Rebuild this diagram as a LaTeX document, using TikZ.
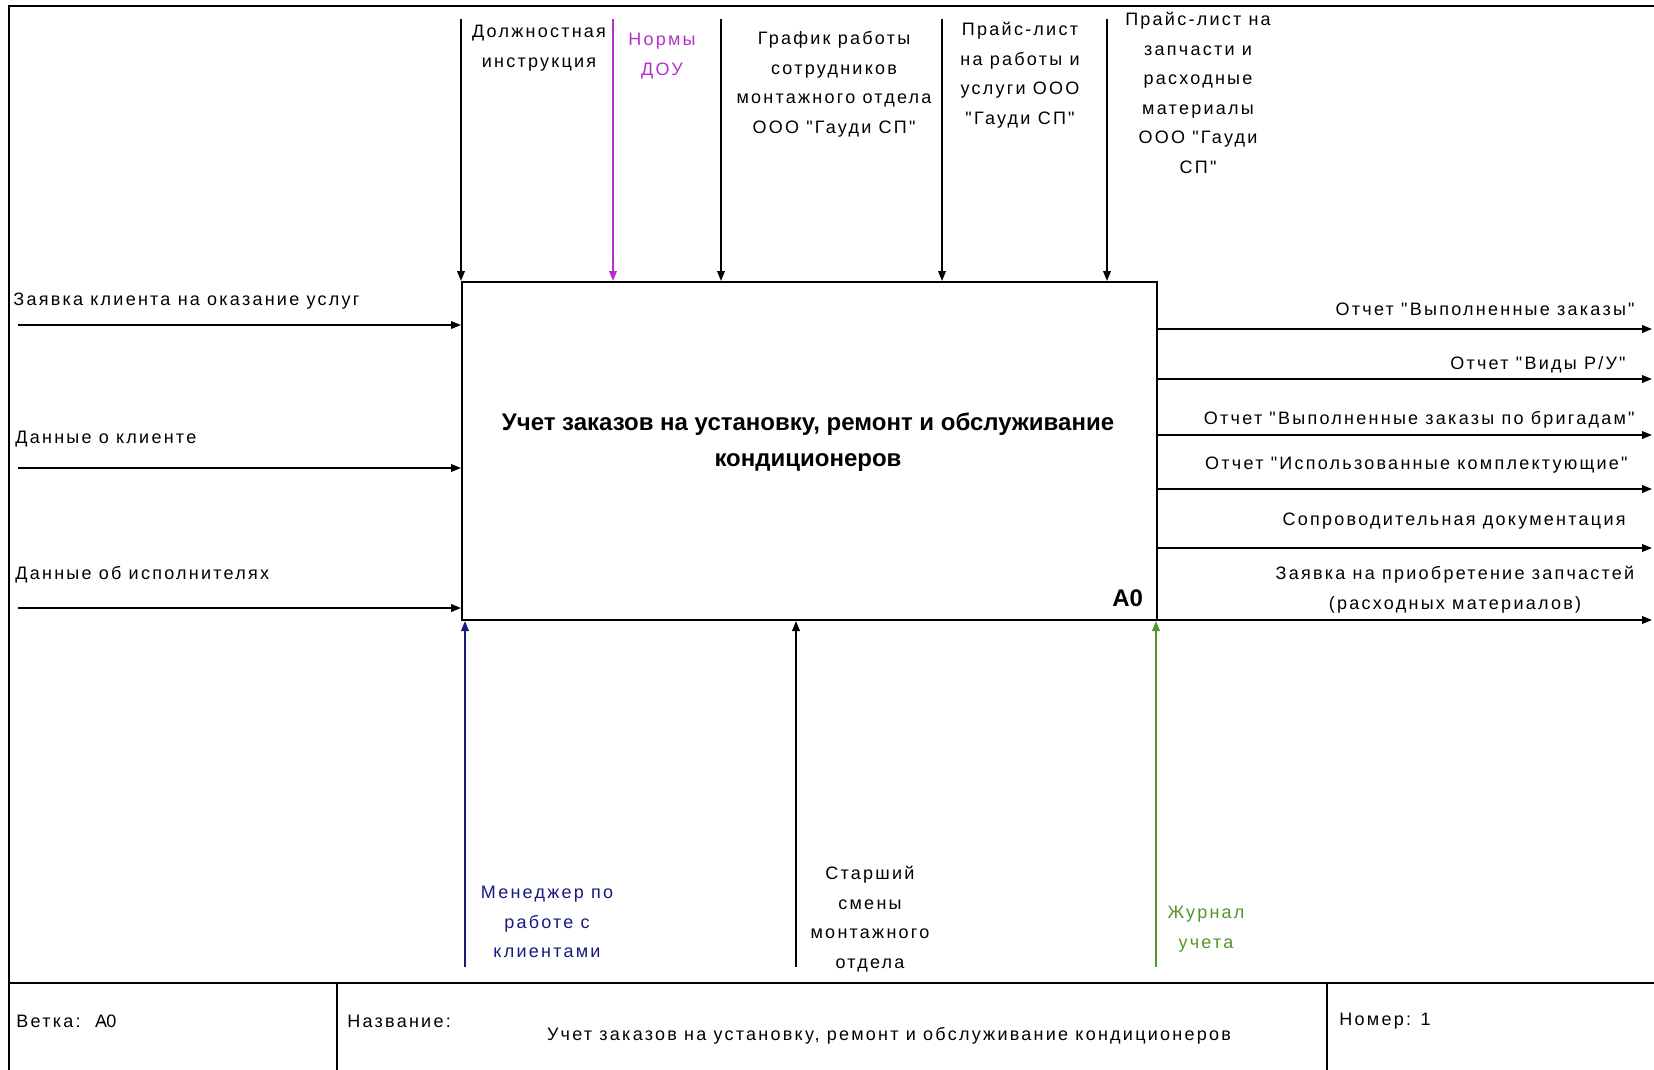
\documentclass[tikz,border=0pt]{standalone}
\usepackage{fontspec}
\setmainfont{Liberation Sans}[Ligatures=TeXOff]
\usetikzlibrary{positioning, arrows.meta}
\definecolor{ctrlpurple}{RGB}{178,50,200}
\definecolor{mechblue}{RGB}{24,24,130}
\definecolor{mechgreen}{RGB}{80,150,40}

\begin{document}
\begin{tikzpicture}[
  x = 0.5pt, y = -0.5pt,
  arr/.style = {-{Triangle[length=5pt, width=3.8pt]}, line width=0.9pt},
  lbl/.style = {align=center, inner sep=0pt,
                font=\fontsize{9}{14.75}\selectfont\addfontfeature{LetterSpace=12.5}},
  frame/.style = {line width=1.4pt}
]

\useasboundingbox (0,0) rectangle (1654,1070);

% function block
\node (A0) [draw, line width=1pt, anchor=north west, inner sep=0pt,
            minimum width=347.5pt, minimum height=169pt] at (461,281) {};
\node (ttl) [align=center, font=\bfseries\fontsize{12}{18}\selectfont] at (808,442)
  {Учет заказов на установку, ремонт и обслуживание\\кондиционеров};
\node (num) [font=\bfseries\fontsize{12}{14}\selectfont, anchor=south east] at (1150,614) {A0};

% controls
\coordinate (c1) at (461,19);
\coordinate (c2) at (613,19);
\coordinate (c3) at (721,19);
\coordinate (c4) at (942,19);
\coordinate (c5) at (1107,19);
\draw[arr] (c1) -- (c1 |- A0.north);
\draw[arr, ctrlpurple] (c2) -- (c2 |- A0.north);
\draw[arr] (c3) -- (c3 |- A0.north);
\draw[arr] (c4) -- (c4 |- A0.north);
\draw[arr] (c5) -- (c5 |- A0.north);
\node (lc1) [lbl, anchor=north] at (539,25) {Должностная\\инструкция};
\node (lc2) [lbl, anchor=north, ctrlpurple] at (662,33) {Нормы\\ДОУ};
\node (lc3) [lbl, anchor=north] at (834,31) {График работы\\сотрудников\\монтажного отдела\\ООО "Гауди СП"};
\node (lc4) [lbl, anchor=north] at (1020,22) {Прайс-лист\\на работы и\\услуги ООО\\"Гауди СП"};
\node (lc5) [lbl, anchor=north] at (1198,12) {Прайс-лист на\\запчасти и\\расходные\\материалы\\ООО "Гауди\\СП"};

% inputs
\coordinate (i1) at (18,325);
\coordinate (i2) at (18,468);
\coordinate (i3) at (18,608);
\draw[arr] (i1) -- (i1 -| A0.west);
\draw[arr] (i2) -- (i2 -| A0.west);
\draw[arr] (i3) -- (i3 -| A0.west);
\node (li1) [lbl, anchor=west] at (13,301) {Заявка клиента на оказание услуг};
\node (li2) [lbl, anchor=west] at (15,439) {Данные о клиенте};
\node (li3) [lbl, anchor=west] at (15,575) {Данные об исполнителях};

% outputs
\coordinate (o1) at (1652,329);
\coordinate (o2) at (1652,379);
\coordinate (o3) at (1652,435);
\coordinate (o4) at (1652,489);
\coordinate (o5) at (1652,548);
\coordinate (o6) at (1652,620);
\draw[arr] (o1 -| A0.east) -- (o1);
\draw[arr] (o2 -| A0.east) -- (o2);
\draw[arr] (o3 -| A0.east) -- (o3);
\draw[arr] (o4 -| A0.east) -- (o4);
\draw[arr] (o5 -| A0.east) -- (o5);
\draw[arr] (o6 -| A0.east) -- (o6);
\node (lo1) [lbl, anchor=east] at (1635,309) {Отчет "Выполненные заказы"};
\node (lo2) [lbl, anchor=east] at (1626,365) {Отчет "Виды Р/У"};
\node (lo3) [lbl, anchor=east] at (1635,420) {Отчет "Выполненные заказы по бригадам"};
\node (lo4) [lbl, anchor=east] at (1628,465) {Отчет "Использованные комплектующие"};
\node (lo5) [lbl, anchor=east] at (1626,521) {Сопроводительная документация};
\node (lo6) [lbl, anchor=north] at (1455,566) {Заявка на приобретение запчастей\\(расходных материалов)};

% mechanisms
\coordinate (m1) at (465,967);
\coordinate (m2) at (796,967);
\coordinate (m3) at (1156,967);
\draw[arr, mechblue] (m1) -- (m1 |- A0.south);
\draw[arr] (m2) -- (m2 |- A0.south);
\draw[arr, mechgreen] (m3) -- (m3 |- A0.south);
\node (lm1) [lbl, anchor=north, mechblue] at (547,886) {Менеджер по\\работе с\\клиентами};
\node (lm2) [lbl, anchor=north] at (870,866) {Старший\\смены\\монтажного\\отдела};
\node (lm3) [lbl, anchor=north, mechgreen] at (1206,906) {Журнал\\учета};

% frame and footer
\draw[frame] (9,1070) -- (9,6) -- (1654,6);
\draw[frame] (9,983) -- (1654,983);
\coordinate (f1) at (337,983);
\coordinate (f2) at (1327,983);
\draw[line width=0.8pt] (f1) -- (f1 |- 0,1070);
\draw[line width=0.8pt] (f2) -- (f2 |- 0,1070);
\node (fb) [lbl, anchor=west] at (16,1021) {Ветка:\ \ А\kern-0.42em-\kern0.05em0};
\node (fn) [lbl, anchor=west] at (347,1021) {Название:};
\node (ft) [lbl] at (889,1036) {Учет заказов на установку, ремонт и обслуживание кондиционеров};
\node (fk) [lbl, anchor=west] at (1339,1021) {Номер: 1};

\end{tikzpicture}
\end{document}
